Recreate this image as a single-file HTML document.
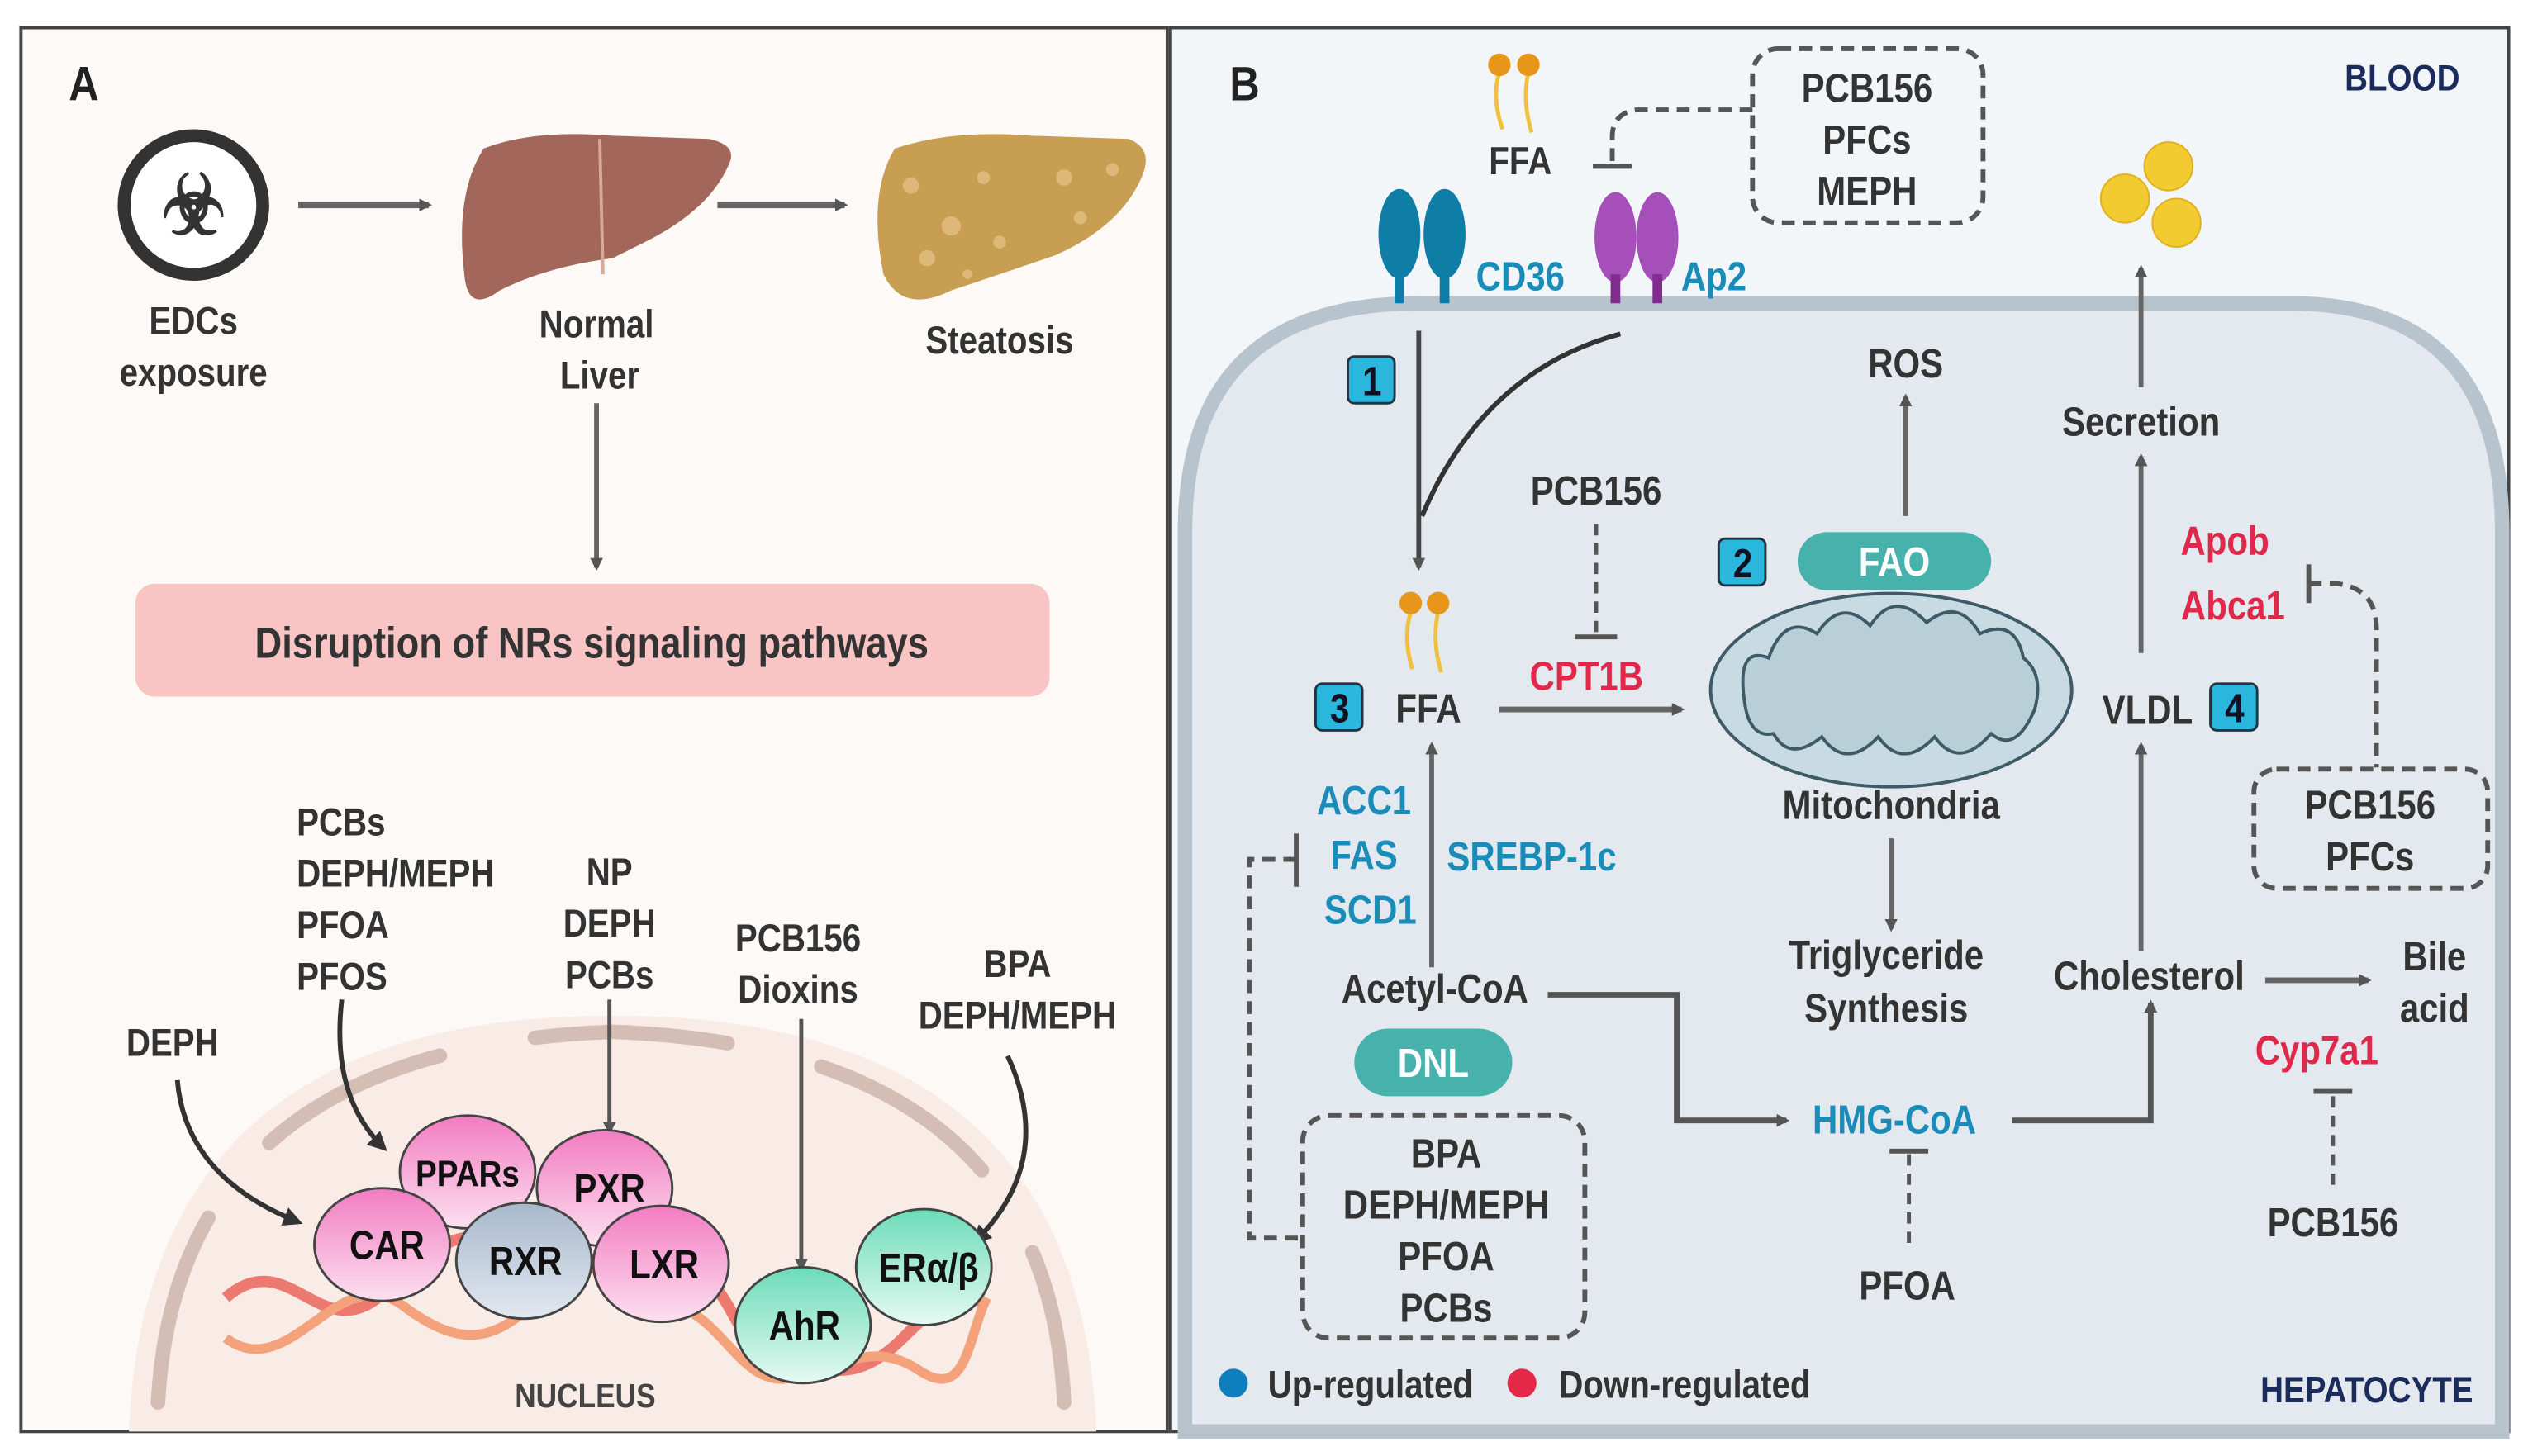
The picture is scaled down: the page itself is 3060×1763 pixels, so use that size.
<!DOCTYPE html>
<html><head><meta charset="utf-8"><style>
html,body{margin:0;padding:0;background:#fff}
svg{display:block}
text{font-family:"Liberation Sans Narrow","Liberation Sans",sans-serif;font-weight:bold;fill:#333;text-anchor:middle;transform-box:fill-box;transform-origin:center;transform:scaleX(.86)}
.b{fill:#1a8cb8}.r{fill:#e0284a}
</style></head><body>
<svg width="3060" height="1763" viewBox="0 0 1568 903" xmlns="http://www.w3.org/2000/svg">
<defs>
<marker id="ah" markerWidth="8" markerHeight="8" refX="6" refY="4" orient="auto" markerUnits="userSpaceOnUse"><path d="M0,0 L8,4 L0,8 z" fill="#555"/></marker>
<marker id="ahk" markerWidth="12" markerHeight="12" refX="9" refY="6" orient="auto" markerUnits="userSpaceOnUse"><path d="M0,0 L12,6 L0,12 z" fill="#333"/></marker>
<linearGradient id="pkl" x1="0" y1="0" x2="0" y2="1"><stop offset="0" stop-color="#f27cc2"/><stop offset="1" stop-color="#fce0ef"/></linearGradient>
<linearGradient id="gr" x1="0" y1="0" x2="0" y2="1"><stop offset="0" stop-color="#6cdcb8"/><stop offset="1" stop-color="#e6faf2"/></linearGradient>
<linearGradient id="bl" x1="0" y1="0" x2="0" y2="1"><stop offset="0" stop-color="#a8b8cc"/><stop offset="1" stop-color="#e2e8f0"/></linearGradient>
</defs>
<rect width="1568" height="903" fill="#fff"/>
<!-- Panel A -->
<rect x="13" y="17" width="711" height="871" fill="#fcf9f6" stroke="#444" stroke-width="2"/>
<text x="52" y="62" style="font-size:30px;fill:#222">A</text>
<circle cx="120" cy="127" r="43" fill="#fff" stroke="#333" stroke-width="8"/>
<text x="120" y="145" style="font-size:52px;fill:#333">☣</text>
<text x="120" y="207" style="font-size:24px">EDCs</text>
<text x="120" y="239" style="font-size:24px">exposure</text>
<line x1="185" y1="127" x2="266" y2="127" stroke="#666" stroke-width="4" marker-end="url(#ah)"/>
<line x1="445" y1="127" x2="524" y2="127" stroke="#666" stroke-width="4" marker-end="url(#ah)"/>
<path d="M300,92 Q330,80 380,84 L440,86 Q458,90 452,102 Q440,130 400,150 L380,160 Q340,165 310,180 Q290,195 288,170 Q282,120 300,92z" fill="#a3665a"/>
<path d="M372,86 L374,170" stroke="#d8a898" stroke-width="2" fill="none"/>
<path d="M555,92 Q590,80 640,84 L700,86 Q716,92 708,110 Q695,140 655,158 Q620,170 590,180 Q560,195 548,170 Q538,120 555,92z" fill="#c79e52"/>
<g fill="#ddb878"><circle cx="565" cy="115" r="5"/><circle cx="590" cy="140" r="6"/><circle cx="610" cy="110" r="4"/><circle cx="575" cy="160" r="5"/><circle cx="620" cy="150" r="4"/><circle cx="660" cy="110" r="5"/><circle cx="690" cy="105" r="4"/><circle cx="670" cy="135" r="4"/><circle cx="600" cy="170" r="3"/></g>
<text x="370" y="209" style="font-size:24px">Normal</text>
<text x="372" y="241" style="font-size:24px">Liver</text>
<text x="620" y="219" style="font-size:24px">Steatosis</text>
<line x1="370" y1="250" x2="370" y2="352" stroke="#666" stroke-width="3" marker-end="url(#ah)"/>
<rect x="84" y="362" width="567" height="70" rx="12" fill="#f9c4c4"/>
<text x="367" y="408" style="font-size:27px">Disruption of NRs signaling pathways</text>
<!-- nucleus -->
<path d="M80,888 Q90,630 380,630 Q670,630 680,888z" fill="#f9ebe6"/>
<path d="M98,870 Q110,650 380,640 Q650,650 660,870" fill="none" stroke="#d4bdb4" stroke-width="9" stroke-linecap="round" stroke-dasharray="120,60"/>
<text x="184" y="518" style="text-anchor:start;font-size:24px;transform-origin:left">PCBs</text>
<text x="184" y="550" style="text-anchor:start;font-size:24px;transform-origin:left">DEPH/MEPH</text>
<text x="184" y="582" style="text-anchor:start;font-size:24px;transform-origin:left">PFOA</text>
<text x="184" y="614" style="text-anchor:start;font-size:24px;transform-origin:left">PFOS</text>
<text x="378" y="549" style="font-size:24px">NP</text>
<text x="378" y="581" style="font-size:24px">DEPH</text>
<text x="378" y="613" style="font-size:24px">PCBs</text>
<text x="495" y="590" style="font-size:24px">PCB156</text>
<text x="495" y="622" style="font-size:24px">Dioxins</text>
<text x="631" y="606" style="font-size:24px">BPA</text>
<text x="631" y="638" style="font-size:24px">DEPH/MEPH</text>
<text x="107" y="655" style="font-size:24px">DEPH</text>
<path d="M110,670 Q115,730 185,758" fill="none" stroke="#333" stroke-width="3" marker-end="url(#ahk)"/>
<path d="M212,620 Q205,680 238,712" fill="none" stroke="#333" stroke-width="3" marker-end="url(#ahk)"/>
<line x1="378" y1="620" x2="378" y2="702" stroke="#555" stroke-width="2.5" marker-end="url(#ah)"/>
<line x1="497" y1="632" x2="497" y2="787" stroke="#555" stroke-width="2.5" marker-end="url(#ah)"/>
<path d="M625,655 Q655,720 605,770" fill="none" stroke="#333" stroke-width="3" marker-end="url(#ahk)"/>
<!-- DNA -->
<path d="M140,805 C180,770 200,840 240,800 S300,760 330,780 S380,760 420,780 S450,830 480,840 S530,860 560,830 S600,800 612,810" fill="none" stroke="#ec7a70" stroke-width="7"/>
<path d="M140,830 C180,860 210,780 250,810 S310,830 340,800 S390,800 420,810 S460,860 490,855 S540,830 570,850 S600,830 612,805" fill="none" stroke="#f4a27c" stroke-width="6"/>
<g stroke="#444" stroke-width="1.5">
<ellipse cx="290" cy="727" rx="42" ry="35" fill="url(#pkl)"/>
<ellipse cx="375" cy="737" rx="42" ry="36" fill="url(#pkl)"/>
<ellipse cx="237" cy="772" rx="42" ry="35" fill="url(#pkl)"/>
<ellipse cx="325" cy="782" rx="42" ry="36" fill="url(#bl)"/>
<ellipse cx="410" cy="784" rx="42" ry="36" fill="url(#pkl)"/>
<ellipse cx="498" cy="822" rx="42" ry="36" fill="url(#gr)"/>
<ellipse cx="573" cy="786" rx="42" ry="36" fill="url(#gr)"/>
</g>
<text x="290" y="736" style="font-size:23px;fill:#111">PPARs</text>
<text x="378" y="746" style="font-size:25px;fill:#111">PXR</text>
<text x="240" y="781" style="font-size:25px;fill:#111">CAR</text>
<text x="326" y="791" style="font-size:25px;fill:#111">RXR</text>
<text x="412" y="793" style="font-size:25px;fill:#111">LXR</text>
<text x="499" y="831" style="font-size:25px;fill:#111">AhR</text>
<text x="576" y="795" style="font-size:25px;fill:#111">ERα/β</text>
<text x="363" y="873" style="font-size:21px;fill:#444">NUCLEUS</text>
<!-- Panel B -->
<rect x="726" y="17" width="830" height="871" fill="#f3f6f9" stroke="#444" stroke-width="2"/>
<path d="M735,888 L735,330 Q735,188 880,188 L1420,188 Q1552,188 1552,330 L1552,888z" fill="#e3e9ee" stroke="#b7c3cd" stroke-width="9"/>
<text x="772" y="62" style="font-size:30px;fill:#222">B</text>
<text x="1490" y="56" style="font-size:23px;fill:#1a2b5c">BLOOD</text>
<text x="1468" y="870" style="font-size:23px;fill:#1a2b5c">HEPATOCYTE</text>
<path d="M930,45 Q925,60 932,80 M948,45 Q944,62 950,82" stroke="#f0c040" stroke-width="2.5" fill="none"/>
<circle cx="930" cy="40" r="7" fill="#e8961a"/><circle cx="948" cy="40" r="7" fill="#e8961a"/>
<text x="943" y="108" style="font-size:24px">FFA</text>
<rect x="1087" y="30" width="143" height="108" rx="16" fill="none" stroke="#555" stroke-width="3" stroke-dasharray="8,5"/>
<text x="1158" y="63" style="font-size:25px">PCB156</text>
<text x="1158" y="95" style="font-size:25px">PFCs</text>
<text x="1158" y="127" style="font-size:25px">MEPH</text>
<path d="M1087,68 L1015,68 Q1000,70 1000,85 L1000,102" fill="none" stroke="#555" stroke-width="3" stroke-dasharray="8,5"/>
<line x1="988" y1="103" x2="1012" y2="103" stroke="#555" stroke-width="3"/>
<g fill="#0e7ea6"><ellipse cx="868" cy="145" rx="13" ry="28"/><ellipse cx="896" cy="145" rx="13" ry="28"/><rect x="865" y="168" width="6" height="20"/><rect x="893" y="168" width="6" height="20"/></g>
<g fill="#a64fbb"><ellipse cx="1002" cy="147" rx="13" ry="28"/><ellipse cx="1028" cy="147" rx="13" ry="28"/></g>
<g fill="#7e2d8e"><rect x="999" y="170" width="6" height="18"/><rect x="1025" y="170" width="6" height="18"/></g>
<text x="943" y="180" class="b" style="font-size:25px">CD36</text>
<text x="1063" y="180" class="b" style="font-size:25px">Ap2</text>
<g fill="#f2cb30" stroke="#e0b020" stroke-width="1"><circle cx="1345" cy="103" r="15"/><circle cx="1318" cy="123" r="15"/><circle cx="1350" cy="138" r="15"/></g>
<g stroke="#234" stroke-width="1.5" fill="#2bb6de">
<rect x="836" y="221" width="29" height="29" rx="4"/><rect x="1066" y="334" width="29" height="29" rx="4"/><rect x="816" y="424" width="29" height="29" rx="4"/><rect x="1371" y="424" width="29" height="29" rx="4"/></g>
<text x="851" y="245" style="font-size:25px;fill:#112">1</text>
<text x="1081" y="358" style="font-size:25px;fill:#112">2</text>
<text x="831" y="448" style="font-size:25px;fill:#112">3</text>
<text x="1386" y="448" style="font-size:25px;fill:#112">4</text>
<line x1="880" y1="205" x2="880" y2="352" stroke="#444" stroke-width="3" marker-end="url(#ah)"/>
<path d="M1005,207 Q920,230 882,320" fill="none" stroke="#333" stroke-width="3"/>
<text x="1182" y="234" style="font-size:25px">ROS</text>
<line x1="1182" y1="320" x2="1182" y2="246" stroke="#666" stroke-width="3" marker-end="url(#ah)"/>
<text x="990" y="313" style="font-size:25px">PCB156</text>
<line x1="990" y1="325" x2="990" y2="392" stroke="#555" stroke-width="2.5" stroke-dasharray="7,5"/>
<line x1="977" y1="395" x2="1003" y2="395" stroke="#555" stroke-width="3"/>
<rect x="1115" y="330" width="120" height="36" rx="18" fill="#47b1ab"/>
<text x="1175" y="357" style="font-size:25px;fill:#fff">FAO</text>
<path d="M875,380 Q870,395 876,415 M892,380 Q888,397 894,417" stroke="#f0c040" stroke-width="2.5" fill="none"/>
<circle cx="875" cy="374" r="7" fill="#e8961a"/><circle cx="892" cy="374" r="7" fill="#e8961a"/>
<text x="886" y="448" style="font-size:25px">FFA</text>
<text x="984" y="428" class="r" style="font-size:25px">CPT1B</text>
<line x1="930" y1="440" x2="1043" y2="440" stroke="#666" stroke-width="3.5" marker-end="url(#ah)"/>
<ellipse cx="1173" cy="428" rx="112" ry="60" fill="#c8dbe2" stroke="#3e5a66" stroke-width="2"/>
<path d="M1082,435 Q1077,400 1097,408 Q1107,380 1127,393 Q1142,370 1160,388 Q1175,365 1195,386 Q1215,370 1228,393 Q1250,383 1255,408 Q1268,418 1262,440 Q1250,468 1235,455 Q1215,478 1200,457 Q1180,478 1165,457 Q1145,478 1130,457 Q1110,473 1100,455 Q1085,458 1082,435z" fill="#b9cfd8" stroke="#3e5a66" stroke-width="2"/>
<text x="1173" y="508" style="font-size:25px">Mitochondria</text>
<line x1="1173" y1="520" x2="1173" y2="576" stroke="#666" stroke-width="3" marker-end="url(#ah)"/>
<text x="1170" y="601" style="font-size:25px">Triglyceride</text>
<text x="1170" y="634" style="font-size:25px">Synthesis</text>
<text x="1328" y="270" style="font-size:25px">Secretion</text>
<line x1="1328" y1="405" x2="1328" y2="283" stroke="#666" stroke-width="3" marker-end="url(#ah)"/>
<line x1="1328" y1="240" x2="1328" y2="166" stroke="#666" stroke-width="3" marker-end="url(#ah)"/>
<text x="1380" y="344" class="r" style="font-size:25px">Apob</text>
<text x="1385" y="384" class="r" style="font-size:25px">Abca1</text>
<line x1="1432" y1="350" x2="1432" y2="374" stroke="#555" stroke-width="3"/>
<path d="M1432,362 L1450,362 Q1474,365 1474,390 L1474,476" fill="none" stroke="#555" stroke-width="3" stroke-dasharray="8,5"/>
<rect x="1398" y="477" width="145" height="74" rx="14" fill="none" stroke="#555" stroke-width="3" stroke-dasharray="8,5"/>
<text x="1470" y="508" style="font-size:25px">PCB156</text>
<text x="1470" y="540" style="font-size:25px">PFCs</text>
<text x="1332" y="449" style="font-size:25px">VLDL</text>
<line x1="1328" y1="590" x2="1328" y2="462" stroke="#666" stroke-width="3" marker-end="url(#ah)"/>
<text x="846" y="505" class="b" style="font-size:25px">ACC1</text>
<text x="846" y="539" class="b" style="font-size:25px">FAS</text>
<text x="850" y="573" class="b" style="font-size:25px">SCD1</text>
<text x="950" y="540" class="b" style="font-size:25px">SREBP-1c</text>
<line x1="888" y1="600" x2="888" y2="462" stroke="#666" stroke-width="3" marker-end="url(#ah)"/>
<line x1="804" y1="517" x2="804" y2="550" stroke="#555" stroke-width="3"/>
<path d="M804,533 L775,533 L775,768 L808,768" fill="none" stroke="#555" stroke-width="3" stroke-dasharray="8,5"/>
<text x="890" y="622" style="font-size:25px">Acetyl-CoA</text>
<rect x="840" y="638" width="98" height="42" rx="21" fill="#47b1ab"/>
<text x="889" y="668" style="font-size:25px;fill:#fff">DNL</text>
<rect x="808" y="692" width="175" height="138" rx="16" fill="none" stroke="#555" stroke-width="3" stroke-dasharray="8,5"/>
<text x="897" y="724" style="font-size:25px">BPA</text>
<text x="897" y="756" style="font-size:25px">DEPH/MEPH</text>
<text x="897" y="788" style="font-size:25px">PFOA</text>
<text x="897" y="820" style="font-size:25px">PCBs</text>
<path d="M960,617 L1040,617 L1040,695 L1108,695" fill="none" stroke="#555" stroke-width="3.5" marker-end="url(#ah)"/>
<text x="1175" y="703" class="b" style="font-size:25px">HMG-CoA</text>
<line x1="1172" y1="714" x2="1196" y2="714" stroke="#555" stroke-width="3"/>
<line x1="1184" y1="716" x2="1184" y2="776" stroke="#555" stroke-width="2.5" stroke-dasharray="7,5"/>
<text x="1183" y="806" style="font-size:25px">PFOA</text>
<path d="M1248,695 L1334,695 L1334,622" fill="none" stroke="#555" stroke-width="3.5" marker-end="url(#ah)"/>
<text x="1333" y="614" style="font-size:25px">Cholesterol</text>
<line x1="1405" y1="608" x2="1469" y2="608" stroke="#666" stroke-width="3.5" marker-end="url(#ah)"/>
<text x="1510" y="602" style="font-size:25px">Bile</text>
<text x="1510" y="634" style="font-size:25px">acid</text>
<text x="1437" y="660" class="r" style="font-size:25px">Cyp7a1</text>
<line x1="1435" y1="677" x2="1459" y2="677" stroke="#555" stroke-width="3"/>
<line x1="1447" y1="680" x2="1447" y2="740" stroke="#555" stroke-width="2.5" stroke-dasharray="7,5"/>
<text x="1447" y="767" style="font-size:25px">PCB156</text>
<circle cx="765" cy="858" r="9" fill="#0e7ebc"/>
<text x="850" y="867" style="font-size:24px">Up-regulated</text>
<circle cx="944" cy="858" r="9" fill="#e62848"/>
<text x="1045" y="867" style="font-size:24px">Down-regulated</text>
</svg>
</body></html>
